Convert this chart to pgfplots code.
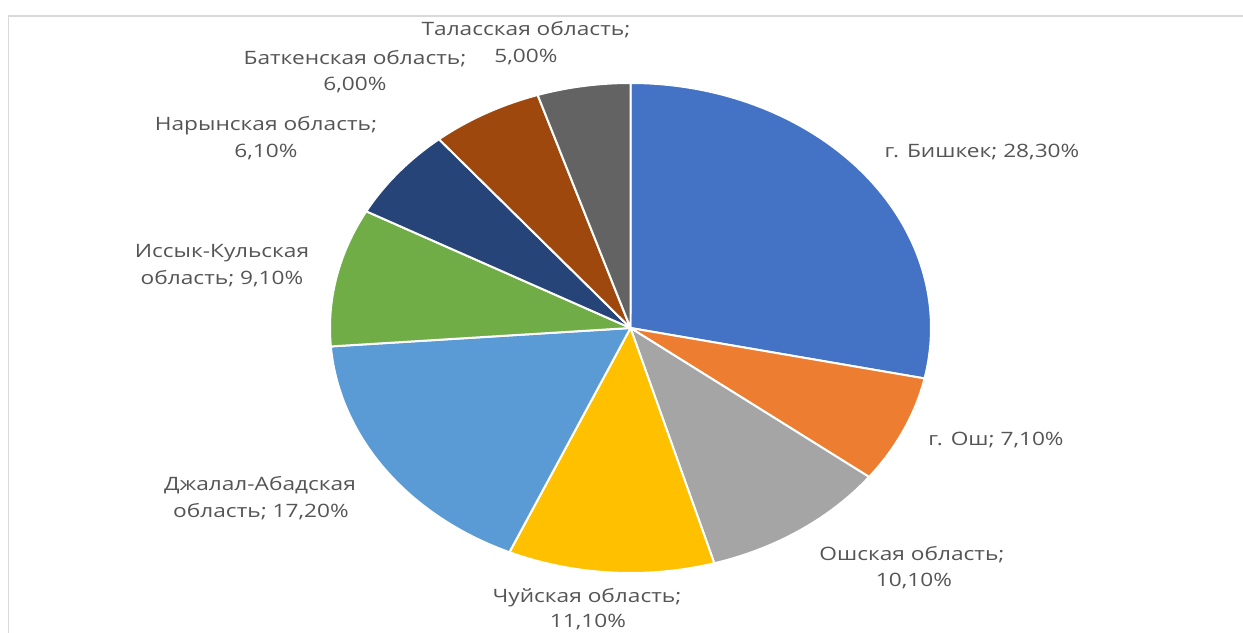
\documentclass[border=0pt]{standalone}
\usepackage{pgfplots}
\pgfplotsset{compat=1.18}
\usepackage{fontspec}
\setmainfont{Open Sans}
\definecolor{c1}{HTML}{4472C4}
\definecolor{c2}{HTML}{ED7D31}
\definecolor{c3}{HTML}{A5A5A5}
\definecolor{c4}{HTML}{FFC000}
\definecolor{c5}{HTML}{5B9BD5}
\definecolor{c6}{HTML}{70AD47}
\definecolor{c7}{HTML}{264478}
\definecolor{c8}{HTML}{9E480E}
\definecolor{c9}{HTML}{636363}
\definecolor{txt}{HTML}{555555}
\definecolor{frame}{HTML}{D9D9D9}
% #1 cumulative share before slice (%), #2 share (%), #3 colour
\newcommand\slice[3]{%
  \pgfmathsetmacro\sa{90-3.6*(#1)}%
  \pgfmathsetmacro\sb{90-3.6*((#1)+(#2))}%
  \edef\temp{\noexpand\addplot[fill=#3, draw=white, line width=2pt, line join=round,
    domain=\sb:\sa, samples=80, variable=\noexpand\t]
    ({630.5+300.5*cos(\noexpand\t)},{-328+245*sin(\noexpand\t)}) -- (axis cs:630.5,-328) -- cycle;}%
  \temp}
\newcommand\lb[1]{\scalebox{1.23}[1]{#1}}
\begin{document}
\begin{tikzpicture}[lab/.style={anchor=mid, text=txt, inner sep=0pt, font=\fontsize{18.5}{22}\selectfont}]
\begin{axis}[at={(0,0)}, anchor=south west, scale only axis, width=1243bp, height=633bp,
  xmin=0, xmax=1243, ymin=-633, ymax=0, hide axis, clip=false]
\slice{0}{28.3}{c1}
\slice{28.3}{7.1}{c2}
\slice{35.4}{10.1}{c3}
\slice{45.5}{11.1}{c4}
\slice{56.6}{17.2}{c5}
\slice{73.8}{9.1}{c6}
\slice{82.9}{6.1}{c7}
\slice{89.0}{6.0}{c8}
\slice{95.0}{5.0}{c9}
\draw[frame, line width=2pt] (axis cs:8.5,-640) -- (axis cs:8.5,-16) -- (axis cs:1250,-16);
\node[lab] at (axis cs:526,-33) {\lb{Таласская область;}};
\node[lab] at (axis cs:526,-60) {\lb{5,00\%}};
\node[lab] at (axis cs:355,-62) {\lb{Баткенская область;}};
\node[lab] at (axis cs:355,-88) {\lb{6,00\%}};
\node[lab] at (axis cs:266,-128) {\lb{Нарынская область;}};
\node[lab] at (axis cs:266,-155) {\lb{6,10\%}};
\node[lab] at (axis cs:222,-255) {\lb{Иссык-Кульская}};
\node[lab] at (axis cs:222,-282) {\lb{область; 9,10\%}};
\node[lab] at (axis cs:982,-155) {\lb{г. Бишкек; 28,30\%}};
\node[lab] at (axis cs:996,-443) {\lb{г. Ош; 7,10\%}};
\node[lab] at (axis cs:912,-558) {\lb{Ошская область;}};
\node[lab] at (axis cs:914,-584) {\lb{10,10\%}};
\node[lab] at (axis cs:587,-600) {\lb{Чуйская область;}};
\node[lab] at (axis cs:588,-625) {\lb{11,10\%}};
\node[lab] at (axis cs:260,-488) {\lb{Джалал-Абадская}};
\node[lab] at (axis cs:261,-515) {\lb{область; 17,20\%}};
\end{axis}
\pgfresetboundingbox
\useasboundingbox (0,0) rectangle (1243bp,633bp);
\end{tikzpicture}
\end{document}
